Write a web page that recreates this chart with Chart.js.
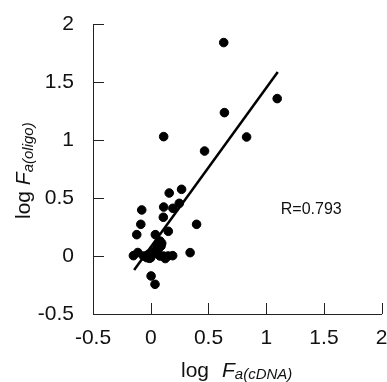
<!DOCTYPE html>
<html>
<head>
<title>log Fa(oligo) vs log Fa(cDNA)</title>
<script src="https://cdn.jsdelivr.net/npm/chart.js"></script>
<style>
  html, body { margin: 0; padding: 0; background: #fff; }
  #wrap { width: 387px; height: 382px; }
</style>
</head>
<body>
<div id="wrap"><canvas id="grafica"></canvas></div>
<script>
// puntos
const ptsX = [0.632, 0.638, 1.095, 0.83, 0.112, 0.466, 0.267, 0.16, 0.247, 0.112,
              0.192, -0.078, 0.397, -0.086, 0.109, -0.121, 0.152, 0.04, 0.08, 0.089,
              0.055, 0.341, -0.15, -0.112, -0.034, 0.0, 0.022, 0.08, 0.126, 0.19,
              0.11, 0.003, 0.037, -0.063, -0.02, 0.065, 0.095, 0.03, -0.01, 0.15];
const ptsY = [1.84, 1.236, 1.357, 1.026, 1.029, 0.905, 0.575, 0.543, 0.454, 0.422,
              0.411, 0.397, 0.273, 0.273, 0.334, 0.184, 0.213, 0.184, 0.129, 0.086,
              0.086, 0.029, 0.003, 0.03, -0.014, -0.014, 0.02, 0.0, -0.022, 0.003,
              0.0, -0.172, -0.244, 0.0, 0.015, 0.06, 0.11, 0.04, -0.02, 0.0];

// recta de regresion (extremos)
const lineX = [-0.144, 1.1];
const lineY = [-0.12, 1.586];

const tickVals = [-0.5, 0, 0.5, 1, 1.5, 2];
const tickLabels = ['-0.5', '0', '0.5', '1', '1.5', '2'];
const rText = 'R=0.793';
const rPos = [1.39, 0.36];

const FONT = '"Liberation Sans", Arial, sans-serif';

// ticks hacia dentro, titulos y texto R
const extras = {
  id: 'extras',
  afterDraw(chart) {
    const ctx = chart.ctx, xs = chart.scales.x, ys = chart.scales.y;
    const a = chart.chartArea;
    ctx.save();
    ctx.strokeStyle = '#222';
    ctx.lineWidth = 1;
    ctx.beginPath();
    tickVals.forEach(v => {
      const py = Math.round(ys.getPixelForValue(v)) + 0.5;
      ctx.moveTo(a.left, py); ctx.lineTo(a.left + 11, py);
      const px = Math.round(xs.getPixelForValue(v)) + 0.5;
      ctx.moveTo(px, a.bottom); ctx.lineTo(px, a.bottom - 11);
    });
    ctx.stroke();

    ctx.fillStyle = '#111';
    ctx.textBaseline = 'alphabetic';
    // R=0.793
    ctx.font = '16px ' + FONT;
    ctx.textAlign = 'center';
    ctx.fillText(rText, xs.getPixelForValue(rPos[0]), ys.getPixelForValue(rPos[1]));

    // titulo eje x
    ctx.textAlign = 'left';
    let x = 181, y = 377;
    ctx.font = '21px ' + FONT;
    ctx.fillText('log', x, y);
    x = 222;
    ctx.font = 'italic 21px ' + FONT;
    ctx.fillText('F', x, y);
    x += ctx.measureText('F').width;
    ctx.font = 'italic 15px ' + FONT;
    ctx.fillText('a(cDNA)', x, y + 2);

    // titulo eje y
    ctx.translate(30, 219);
    ctx.rotate(-Math.PI / 2);
    x = 0; y = 0;
    ctx.font = '21px ' + FONT;
    ctx.fillText('log ', x, y);
    x += ctx.measureText('log ').width;
    ctx.font = 'italic 21px ' + FONT;
    ctx.fillText('F', x, y);
    x += ctx.measureText('F').width;
    ctx.font = 'italic 15px ' + FONT;
    ctx.fillText('a(oligo)', x, y + 3);
    ctx.restore();
  }
};

const config = {
  type: 'scatter',
  data: {
    datasets: [
      {
        label: 'datos',
        data: ptsX.map((v, i) => ({x: v, y: ptsY[i]})),
        backgroundColor: '#000',
        borderColor: '#000',
        pointRadius: 4.3,
        pointHoverRadius: 4.3
      },
      {
        label: 'ajuste',
        type: 'line',
        data: lineX.map((v, i) => ({x: v, y: lineY[i]})),
        borderColor: '#000',
        borderWidth: 2.5,
        pointRadius: 0,
        fill: false
      }
    ]
  },
  options: {
    responsive: true,
    maintainAspectRatio: false,
    animation: false,
    layout: { padding: { top: 24, right: 4, left: 0, bottom: 0 } },
    plugins: { legend: { display: false }, tooltip: { enabled: false } },
    scales: {
      x: {
        type: 'linear', min: -0.5, max: 2,
        afterFit(s) { s.height = 68; s.paddingLeft = 0; s.paddingRight = 0; },
        afterBuildTicks(s) { s.ticks = tickVals.map(v => ({value: v})); },
        grid: { display: false },
        border: { display: true, color: '#222', width: 1 },
        ticks: {
          padding: 4, color: '#111',
          font: { family: FONT, size: 21 },
          callback: (v) => tickLabels[tickVals.indexOf(v)]
        }
      },
      y: {
        type: 'linear', min: -0.5, max: 2,
        afterFit(s) { s.width = 93; s.paddingTop = 0; s.paddingBottom = 0; },
        afterBuildTicks(s) { s.ticks = tickVals.map(v => ({value: v})); },
        grid: { display: false },
        border: { display: true, color: '#222', width: 1 },
        ticks: {
          padding: 11, color: '#111',
          font: { family: FONT, size: 21 },
          callback: (v) => tickLabels[tickVals.indexOf(v)]
        }
      }
    }
  },
  plugins: [extras]
};

const grafica = new Chart(document.getElementById('grafica'), config);
</script>
</body>
</html>
